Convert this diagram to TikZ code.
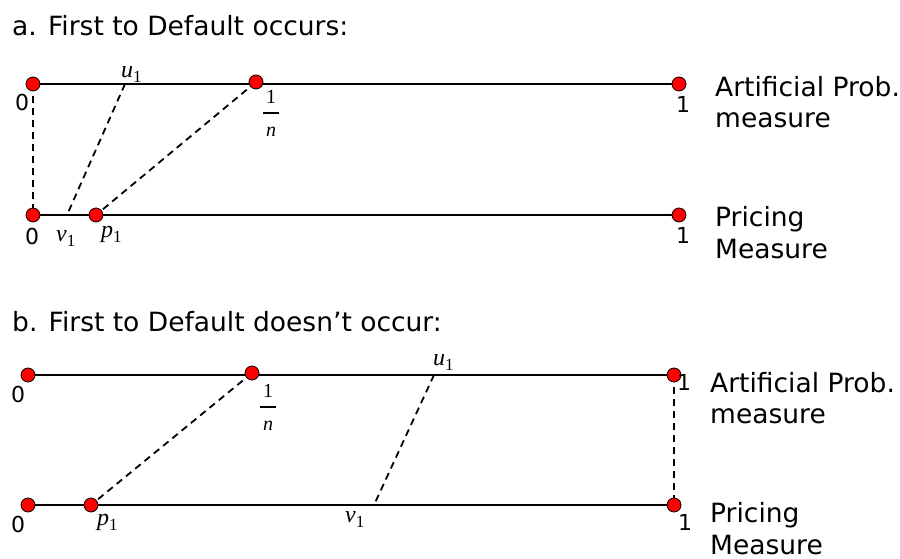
\documentclass[tikz,border=0pt]{standalone}
\usepackage{fontspec}
\setmainfont{DejaVu Sans}
\newfontfamily\serifvar{Liberation Serif}
\newcommand{\mvar}[2]{{\serifvar\fontsize{24}{28}\selectfont\itshape #1}\raisebox{-5pt}{\serifvar\fontsize{17}{20}\selectfont #2}}
\newcommand{\onen}{{\serifvar\fontsize{20}{17}\selectfont\begin{tabular}{@{}c@{}}1\\[-7pt]\rule{16pt}{1.1pt}\\[6pt]\itshape n\end{tabular}}}
\begin{document}
\begin{tikzpicture}[x=1pt,y=-1pt,
  dot/.style={circle,fill=red,draw=black,line width=0.8pt,minimum size=14pt,inner sep=0pt},
  axis/.style={line width=2.8pt},
  link/.style={line width=1.8pt,dash pattern=on 7pt off 5pt},
  txt/.style={font=\fontsize{26.5}{30}\selectfont,inner sep=0pt},
  num/.style={font=\fontsize{22}{26}\selectfont,inner sep=0pt},
  mlab/.style={inner sep=0pt}]
\useasboundingbox (0,0) rectangle (900,559);
% ---------- panel a ----------
\node[txt,anchor=base west] (ta) at (12,36) {a. First to Default occurs:};
\coordinate (a0) at (33,84);
\coordinate (an) at (256,82);
\coordinate (a1) at (679,84);
\coordinate (au) at (125,84);
\coordinate (b0) at (33,215);
\coordinate (bp) at (96,215);
\coordinate (b1) at (679,215);
\coordinate (bv) at (67,215);
\draw[axis] (a0) -- (a1);
\draw[axis] (b0) -- (b1);
\draw[link] (a0) -- (b0);
\draw[link] (au) -- (bv);
\draw[link] (an) -- (bp);
\node[dot] (da0) at (a0) {};
\node[dot] (dan) at (an) {};
\node[dot] (da1) at (a1) {};
\node[dot] (db0) at (b0) {};
\node[dot] (dbp) at (bp) {};
\node[dot] (db1) at (b1) {};
\node[num] (l0a) at (22,102) {0};
\node[num] (l1a) at (683,104) {1};
\node[mlab,anchor=base west] (lua) at (121,78) {\mvar{u}{1}};
\node[mlab] (lna) at (271,116) {\onen};
\node[num] (l0b) at (32,236) {0};
\node[mlab,anchor=base west] (lvb) at (56,241) {\mvar{v}{1}};
\node[mlab,anchor=base west] (lpb) at (101,237) {\mvar{p}{1}};
\node[num] (l1b) at (683,235) {1};
\node[txt,anchor=base west] (ra1) at (715,97) {Artificial Prob.};
\node[txt,anchor=base west] (ra2) at (715,128) {measure};
\node[txt,anchor=base west] (rb1) at (715,226) {Pricing};
\node[txt,anchor=base west] (rb2) at (715,258) {Measure};
% ---------- panel b ----------
\node[txt,anchor=base west] (tb) at (12,331) {b. First to Default doesn't occur:};
\coordinate (c0) at (28,375);
\coordinate (cn) at (252,373);
\coordinate (c1) at (674,375);
\coordinate (cu) at (434,375);
\coordinate (e0) at (28,505);
\coordinate (ep) at (91,505);
\coordinate (e1) at (674,505);
\coordinate (ev) at (374,505);
\draw[axis] (c0) -- (c1);
\draw[axis] (e0) -- (e1);
\draw[link] (cn) -- (ep);
\draw[link] (cu) -- (ev);
\draw[link] (c1) -- (e1);
\node[dot] (dc0) at (c0) {};
\node[dot] (dcn) at (cn) {};
\node[dot] (dc1) at (c1) {};
\node[dot] (de0) at (e0) {};
\node[dot] (dep) at (ep) {};
\node[dot] (de1) at (e1) {};
\node[num] (l0c) at (18,394) {0};
\node[num] (l1c) at (684,382) {1};
\node[mlab,anchor=base west] (luc) at (433,365) {\mvar{u}{1}};
\node[mlab] (lnc) at (268,410) {\onen};
\node[num] (l0e) at (18,524) {0};
\node[mlab,anchor=base west] (lpe) at (97,525) {\mvar{p}{1}};
\node[mlab,anchor=base west] (lve) at (345,522) {\mvar{v}{1}};
\node[num] (l1e) at (685,522) {1};
\node[txt,anchor=base west] (rc1) at (710,392) {Artificial Prob.};
\node[txt,anchor=base west] (rc2) at (710,423) {measure};
\node[txt,anchor=base west] (re1) at (710,522) {Pricing};
\node[txt,anchor=base west] (re2) at (710,554) {Measure};
\end{tikzpicture}
\end{document}
